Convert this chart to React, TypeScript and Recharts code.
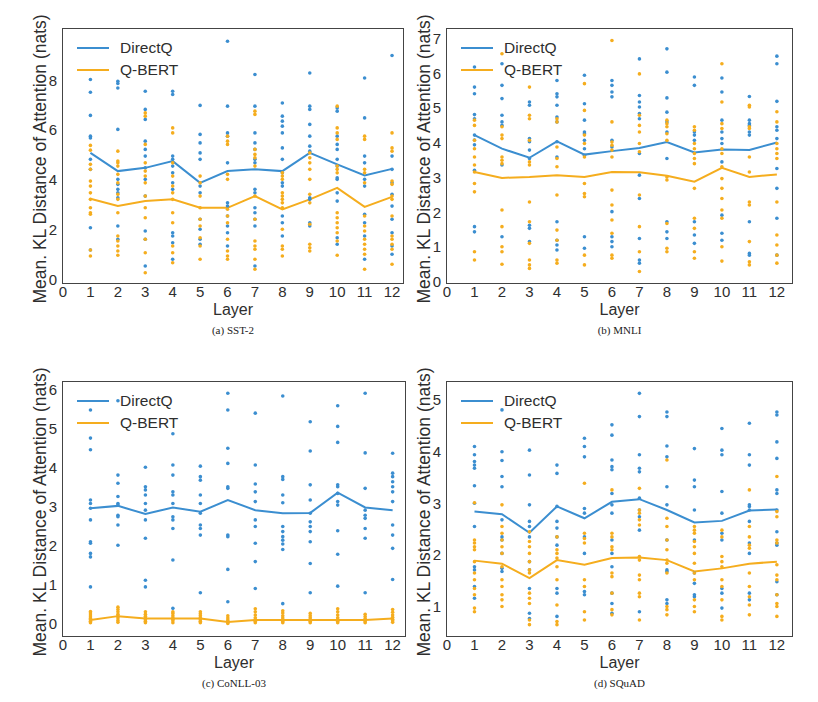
import React from "react";
import { ComposedChart, Scatter, Line, XAxis, YAxis } from "recharts";

// layer index on the x axis
const layers = [1, 2, 3, 4, 5, 6, 7, 8, 9, 10, 11, 12];
const layerTicks = [0, 1, 2, 3, 4, 5, 6, 7, 8, 9, 10, 11, 12];

// (a) SST-2
const sstDirectQ = [
  [8.03, 7.52, 6.59, 5.76, 5.69, 4.83, 4.43, 2.09, 1.2],
  [7.96, 7.87, 7.69, 6.03, 4.03, 3.83, 3.63, 3.49, 3.29, 2.16, 1.63],
  [7.56, 6.83, 6.43, 5.56, 5.23, 4.96, 4.49, 4.03, 3.36, 1.96, 1.63, 0.56],
  [7.56, 7.43, 4.96, 4.83, 4.56, 4.29, 3.89, 3.63, 1.89, 1.76, 1.49, 0.83],
  [6.99, 5.83, 5.49, 5.09, 4.83, 3.76, 3.49, 2.43, 2.03, 1.63, 1.43],
  [9.56, 6.96, 5.89, 5.76, 4.69, 3.09, 2.96, 2.56, 2.16, 1.89, 1.36],
  [8.23, 6.96, 5.89, 5.49, 5.23, 4.83, 4.69, 3.63, 3.49, 2.89, 2.69, 2.43, 2.16, 0.56],
  [7.09, 6.56, 6.36, 6.16, 5.89, 5.29, 4.83, 4.29, 3.89, 3.76, 2.56, 2.29, 1.76],
  [8.29, 6.96, 6.83, 6.23, 5.76, 5.36, 5.16, 3.29, 3.23, 2.29, 2.16],
  [6.89, 6.76, 5.76, 5.43, 5.23, 4.83, 4.56, 4.09, 4.03, 3.49, 3.16, 1.69, 1.43],
  [8.09, 6.49, 4.96, 4.69, 4.03, 3.76, 2.63, 2.29, 1.76, 0.83],
  [8.99, 4.96, 4.43, 3.89, 3.43, 2.96, 2.43, 1.89, 1.36, 1.03],
];
const sstQBert = [
  [5.39, 5.2, 4.63, 4.43, 3.96, 3.76, 3.49, 3.23, 2.89, 2.69, 2.63, 1.2, 0.96],
  [5.16, 4.76, 4.69, 4.56, 4.23, 3.89, 3.43, 3.23, 2.69, 1.76, 1.56, 1.36, 1.16, 0.99],
  [6.69, 6.56, 5.43, 4.69, 4.36, 4.16, 3.89, 3.36, 2.89, 2.49, 1.63, 1.09, 0.29],
  [6.09, 5.89, 4.69, 4.16, 3.76, 3.49, 3.23, 2.69, 2.29, 1.36, 1.09, 0.69],
  [4.16, 3.89, 3.36, 2.89, 2.43, 2.16, 1.69, 1.36, 0.83],
  [5.76, 5.56, 5.43, 4.23, 4.03, 2.83, 2.56, 2.29, 1.63, 1.16, 0.96, 0.83],
  [6.76, 6.63, 5.23, 5.03, 4.89, 4.56, 3.36, 2.43, 1.56, 1.36, 1.23, 0.83, 0.43],
  [4.29, 4.16, 4.03, 3.49, 3.36, 3.23, 3.09, 2.89, 2.03, 1.36, 1.23, 0.96],
  [5.09, 4.89, 4.69, 4.43, 4.03, 3.43, 3.09, 2.23, 1.43, 1.29, 1.16],
  [6.96, 6.09, 5.89, 5.63, 4.56, 4.43, 4.29, 2.69, 2.49, 2.29, 2.09, 1.89, 1.56, 0.99],
  [5.76, 5.63, 4.43, 4.29, 3.89, 2.56, 2.16, 1.96, 1.63, 1.43, 1.23, 1.03, 0.43],
  [5.89, 5.29, 5.16, 3.96, 3.83, 3.36, 3.23, 2.56, 1.76, 1.63, 1.43, 1.23, 0.63],
];
const sstDirectQMean = [5.09, 4.36, 4.49, 4.76, 3.89, 4.36, 4.43, 4.36, 5.09, 4.63, 4.19, 4.45];
const sstQBertMean = [3.25, 2.96, 3.16, 3.23, 2.89, 2.89, 3.36, 2.83, 3.23, 3.69, 2.93, 3.33];

// (b) MNLI
const mnliDirectQ = [
  [6.18, 5.6, 5.41, 4.81, 4.69, 4.22, 4.08, 3.94, 3.21, 1.59, 1.44],
  [6.27, 5.65, 5.27, 4.79, 4.6, 4.5, 3.36, 1.3],
  [5.17, 5.08, 4.12, 4.03, 3.79, 3.55, 1.63, 1.54, 1.16],
  [5.79, 5.41, 5.32, 5.08, 4.74, 4.6, 4.03, 3.59, 1.73, 1.2, 1.06, 0.92],
  [5.94, 5.12, 4.65, 4.31, 4.26, 4.07, 3.83, 3.64, 1.3, 0.97],
  [5.79, 5.65, 5.46, 5.32, 4.07, 3.88, 2.02, 1.3, 1.16, 1.01],
  [6.41, 5.36, 5.17, 5.03, 4.84, 4.69, 3.69, 3.07, 2.4, 1.25, 0.63, 0.54],
  [6.7, 6.03, 5.29, 4.88, 4.6, 4.31, 3.55, 1.73, 1.44, 1.25],
  [5.89, 5.65, 4.31, 4.22, 4.07, 1.73, 1.35, 1.11],
  [5.86, 5.46, 4.65, 4.31, 4.12, 3.98, 3.45, 1.92, 1.4, 1.2],
  [5.33, 4.65, 4.55, 4.5, 4.31, 4.22, 1.73, 0.82, 0.77],
  [6.49, 6.27, 5.19, 4.46, 4.36, 4.12, 3.26, 2.69, 1.83, 0.77],
];
const mnliQBert = [
  [4.65, 4.5, 4.07, 3.83, 3.59, 3.36, 3.16, 2.83, 2.59, 0.87, 0.63],
  [6.56, 4.46, 4.22, 4.12, 3.59, 3.5, 3.4, 2.07, 1.59, 1.01, 0.87, 0.51],
  [5.6, 4.79, 4.69, 4.07, 3.45, 3.36, 2.3, 1.73, 1.11, 0.63, 0.49, 0.39],
  [4.69, 4.6, 3.88, 3.55, 3.31, 2.5, 1.49, 1.2, 0.63, 0.54],
  [5.7, 4.93, 4.22, 3.98, 3.59, 2.83, 2.54, 2.45, 0.77, 0.49],
  [6.94, 4.6, 4.02, 3.93, 3.79, 3.59, 2.64, 2.21, 1.78, 1.4, 0.77, 0.68],
  [5.98, 4.79, 4.5, 4.31, 3.98, 3.74, 2.5, 1.59, 0.87, 0.3],
  [4.65, 4.55, 4.46, 4.26, 4.07, 3.02, 2.93, 1.68, 0.97, 0.87],
  [4.46, 4.36, 3.98, 3.83, 3.69, 3.55, 3.4, 2.69, 1.83, 1.54, 0.87, 0.68],
  [6.27, 5.17, 4.55, 4.41, 3.83, 3.69, 3.31, 2.97, 2.69, 2.4, 2.07, 1.83, 1.01, 0.6],
  [5.08, 5.03, 4.46, 4.41, 3.59, 3.16, 2.3, 2.21, 1.16, 0.58, 0.49],
  [4.89, 4.6, 3.98, 3.83, 3.69, 3.55, 2.3, 1.35, 1.06, 0.77, 0.54],
];
const mnliDirectQMean = [4.22, 3.83, 3.57, 4.04, 3.66, 3.76, 3.85, 4.02, 3.72, 3.81, 3.79, 4.01];
const mnliQBertMean = [3.16, 2.99, 3.02, 3.07, 3.02, 3.16, 3.15, 3.05, 2.88, 3.28, 3.02, 3.09];

// (c) CoNLL-03
const conllDirectQ = [
  [5.48, 4.76, 4.46, 3.17, 3.08, 2.96, 2.66, 2.1, 2.06, 1.8, 1.71, 0.94],
  [5.72, 3.81, 3.6, 3.26, 3.08, 3.04, 2.78, 2.74, 2.53, 2.01],
  [4.01, 3.51, 3.43, 3.3, 3.08, 2.91, 2.66, 2.19, 1.11, 0.94],
  [4.87, 4.07, 3.81, 3.38, 3.3, 3.08, 2.74, 2.66, 2.44, 1.63, 0.39],
  [4.04, 3.77, 3.68, 3.3, 3.08, 2.83, 2.53, 2.44, 2.27, 0.79],
  [5.91, 5.48, 4.5, 4.11, 3.51, 3.47, 2.27, 2.23, 1.39, 0.56],
  [5.4, 4.07, 3.58, 3.38, 3.13, 2.66, 2.49, 2.06, 1.59, 0.9],
  [5.84, 3.77, 3.7, 3.3, 3.1, 2.49, 2.36, 2.23, 2.14, 2.04, 1.9, 0.51],
  [5.18, 4.43, 3.56, 3.17, 2.83, 2.61, 2.49, 2.36, 2.1, 1.54, 0.79],
  [5.59, 5.06, 4.65, 3.56, 3.51, 3.34, 3.13, 3.04, 2.38, 1.78, 0.96],
  [5.91, 4.38, 3.47, 2.91, 2.78, 2.7, 2.44, 2.19, 0.79],
  [4.37, 3.86, 3.77, 3.64, 3.51, 3.38, 3.13, 2.53, 2.27, 1.93, 1.13],
];
const conllQBert = [
  [0.02, 0.06, 0.1, 0.13, 0.17, 0.22, 0.27, 0.31],
  [0.03, 0.08, 0.14, 0.19, 0.24, 0.3, 0.36, 0.42],
  [0.02, 0.06, 0.1, 0.14, 0.19, 0.24, 0.3],
  [0.02, 0.07, 0.11, 0.15, 0.2, 0.26, 0.3],
  [0.02, 0.06, 0.1, 0.15, 0.2, 0.25, 0.3],
  [0.0, 0.03, 0.06, 0.09, 0.14, 0.2],
  [0.02, 0.06, 0.1, 0.15, 0.22, 0.3, 0.38],
  [0.02, 0.05, 0.09, 0.14, 0.2, 0.27, 0.33],
  [0.02, 0.06, 0.1, 0.15, 0.2, 0.26],
  [0.02, 0.06, 0.1, 0.15, 0.22, 0.3, 0.38],
  [0.02, 0.05, 0.09, 0.13, 0.18, 0.24],
  [0.03, 0.07, 0.11, 0.16, 0.22, 0.29, 0.36],
];
const conllDirectQMean = [2.96, 3.02, 2.81, 2.98, 2.87, 3.17, 2.91, 2.83, 2.84, 3.36, 2.98, 2.91];
const conllQBertMean = [0.09, 0.19, 0.13, 0.13, 0.13, 0.04, 0.09, 0.09, 0.09, 0.09, 0.09, 0.13];

// (d) SQuAD
const squadDirectQ = [
  [4.1, 3.94, 3.81, 3.74, 3.68, 3.34, 3.0, 2.55, 1.77, 1.71, 1.39, 1.16],
  [4.81, 4.0, 3.83, 3.52, 3.32, 2.68, 2.35, 2.29, 2.03, 1.74, 1.68],
  [4.03, 3.55, 2.97, 2.65, 2.55, 2.35, 1.87, 1.71, 1.35, 0.87, 0.77],
  [3.74, 3.58, 2.94, 2.65, 2.52, 2.35, 2.19, 1.35, 1.26, 0.81],
  [4.26, 4.1, 3.9, 2.9, 2.81, 2.35, 2.03, 1.29, 1.23],
  [4.52, 4.32, 3.84, 3.71, 3.65, 3.19, 2.97, 2.81, 2.29, 2.03, 1.77, 1.26, 1.06, 0.87],
  [5.13, 4.68, 3.94, 3.68, 3.61, 3.1, 2.87, 2.74, 2.48, 0.9],
  [4.77, 4.68, 4.11, 3.9, 3.32, 2.97, 2.29, 1.71, 1.68, 1.13, 1.06],
  [4.06, 3.45, 3.32, 2.87, 2.29, 1.65, 1.45, 1.23, 1.19],
  [4.45, 4.03, 3.94, 3.23, 2.81, 2.42, 2.29, 1.35, 1.26, 0.97],
  [4.55, 3.94, 3.74, 2.97, 2.94, 2.87, 2.65, 2.23, 2.03, 1.26, 1.13],
  [4.77, 4.71, 4.19, 3.87, 3.26, 3.19, 2.87, 2.45, 2.23, 2.19, 1.48, 1.23],
];
const squadQBert = [
  [3.01, 2.29, 2.23, 2.16, 2.1, 1.87, 1.65, 1.52, 1.35, 1.23, 0.97, 0.9],
  [2.97, 2.55, 2.42, 2.29, 2.16, 2.03, 1.77, 1.52, 1.39, 1.23, 1.13, 1.0],
  [2.45, 2.26, 2.16, 2.03, 1.87, 1.71, 1.65, 1.26, 1.16, 1.06, 0.74, 0.65],
  [2.35, 2.1, 2.03, 1.94, 1.77, 1.52, 1.03, 0.71, 0.65],
  [3.39, 2.42, 2.32, 2.23, 1.52, 1.39, 0.9, 0.74],
  [3.26, 2.42, 2.35, 2.16, 2.1, 1.65, 1.58, 1.26, 0.94, 0.84],
  [3.29, 2.87, 2.81, 2.68, 2.58, 1.97, 1.9, 1.61, 1.52, 1.26, 1.19, 0.74],
  [3.84, 2.71, 2.55, 2.29, 2.1, 1.9, 1.84, 1.65, 1.0, 0.94, 0.84],
  [2.55, 2.48, 2.42, 2.26, 2.16, 2.03, 1.84, 1.65, 1.52, 1.13, 1.0, 0.9],
  [2.48, 2.35, 1.97, 1.87, 1.77, 1.52, 1.39, 1.13, 0.81, 0.74],
  [3.26, 2.55, 2.35, 2.19, 2.13, 1.65, 1.39, 1.19, 1.03, 0.84],
  [3.52, 2.84, 2.74, 2.29, 2.23, 1.81, 1.61, 1.52, 1.23, 1.06, 1.0, 0.81],
];
const squadDirectQMean = [2.84, 2.79, 2.43, 2.94, 2.71, 3.03, 3.08, 2.87, 2.63, 2.66, 2.86, 2.88];
const squadQBertMean = [1.89, 1.83, 1.55, 1.9, 1.81, 1.94, 1.95, 1.9, 1.68, 1.74, 1.83, 1.87];

const BLUE = "#3b8ed0";
const ORANGE = "#f5ad1e";
const TEXT = "#2e2e2e";
const FONT = '"Liberation Sans", Arial, sans-serif';

const toPoints = (groups: number[][]) =>
  groups.flatMap((vals, i) => vals.map((v) => ({ x: layers[i], y: v })));
const toLine = (means: number[]) => means.map((v, i) => ({ x: layers[i], y: v }));

const dot = (color: string) => (p: any) => (
  <circle cx={p.cx} cy={p.cy} r={1.8} fill={color} />
);

type PanelProps = {
  left: number;
  top: number;
  w: number;
  h: number;
  xMax: number;
  yDomain: [number, number];
  yTicks: number[];
  caption: string;
  directQ: number[][];
  qBert: number[][];
  directQMean: number[];
  qBertMean: number[];
};

function Panel(p: PanelProps) {
  const ML = 50;
  const MT = 10;
  const MR = 10;
  const XH = 38;
  return (
    <>
      <div style={{ position: "absolute", left: p.left - ML, top: p.top - MT }}>
        <ComposedChart
          width={p.w + ML + MR}
          height={p.h + MT + XH}
          margin={{ top: MT, right: MR, left: 0, bottom: 0 }}
        >
          <XAxis
            type="number"
            dataKey="x"
            domain={[0, p.xMax]}
            ticks={layerTicks}
            allowDataOverflow
            axisLine={false}
            tickLine={false}
            tickSize={0}
            tickMargin={3}
            height={XH}
            tick={{ fill: TEXT, fontSize: 15 }}
            label={{ value: "Layer", position: "insideBottom", offset: 6, fill: TEXT, fontSize: 16 }}
          />
          <YAxis
            type="number"
            dataKey="y"
            domain={p.yDomain}
            ticks={p.yTicks}
            allowDataOverflow
            axisLine={false}
            tickLine={false}
            tickSize={0}
            tickMargin={6}
            width={ML}
            tick={{ fill: TEXT, fontSize: 15 }}
          />
          <Scatter data={toPoints(p.directQ)} fill={BLUE} shape={dot(BLUE)} isAnimationActive={false} />
          <Scatter data={toPoints(p.qBert)} fill={ORANGE} shape={dot(ORANGE)} isAnimationActive={false} />
          <Line
            data={toLine(p.directQMean)}
            dataKey="y"
            stroke={BLUE}
            strokeWidth={2}
            dot={false}
            activeDot={false}
            isAnimationActive={false}
          />
          <Line
            data={toLine(p.qBertMean)}
            dataKey="y"
            stroke={ORANGE}
            strokeWidth={2}
            dot={false}
            activeDot={false}
            isAnimationActive={false}
          />
        </ComposedChart>
      </div>
      {/* frame */}
      <div
        style={{
          position: "absolute",
          left: p.left - 1,
          top: p.top - 1,
          width: p.w + 2,
          height: p.h + 2,
          border: "1.5px solid #444",
          boxSizing: "border-box",
          pointerEvents: "none",
        }}
      />
      {/* legend */}
      {[
        { name: "DirectQ", color: BLUE, dy: 19 },
        { name: "Q-BERT", color: ORANGE, dy: 41 },
      ].map((item) => (
        <React.Fragment key={item.name}>
          <div
            style={{
              position: "absolute",
              left: p.left + 14,
              top: p.top + item.dy - 1,
              width: 32,
              height: 2,
              background: item.color,
            }}
          />
          <div
            style={{
              position: "absolute",
              left: p.left + 57,
              top: p.top + item.dy - 10,
              height: 20,
              lineHeight: "20px",
              fontSize: 15.5,
              color: TEXT,
            }}
          >
            {item.name}
          </div>
        </React.Fragment>
      ))}
      {/* y axis title */}
      <div
        style={{
          position: "absolute",
          left: p.left - 23,
          top: p.top + p.h / 2 + 3,
          transform: "translate(-50%, -50%) rotate(-90deg)",
          whiteSpace: "nowrap",
          fontSize: 17.5,
          color: TEXT,
        }}
      >
        Mean. KL Distance of Attention (nats)
      </div>
      <div
        style={{
          position: "absolute",
          left: p.left + p.w / 2,
          top: p.top + p.h + 47,
          transform: "translate(-50%, -50%)",
          whiteSpace: "nowrap",
          fontFamily: '"Liberation Serif", "Times New Roman", serif',
          fontSize: 11,
          color: "#222",
        }}
      >
        {p.caption}
      </div>
    </>
  );
}

export default function App() {
  return (
    <div
      style={{
        position: "absolute",
        left: 0,
        top: 0,
        width: 818,
        height: 702,
        background: "#fff",
        fontFamily: FONT,
        overflow: "hidden",
      }}
    >
      <Panel
        left={63}
        top={29}
        w={340}
        h={254}
        xMax={12.4}
        yDomain={[-0.12, 10.05]}
        yTicks={[0, 2, 4, 6, 8]}
        caption="(a) SST-2"
        directQ={sstDirectQ}
        qBert={sstQBert}
        directQMean={sstDirectQMean}
        qBertMean={sstQBertMean}
      />
      <Panel
        left={447}
        top={29}
        w={345}
        h={254}
        xMax={12.55}
        yDomain={[-0.03, 7.27]}
        yTicks={[0, 1, 2, 3, 4, 5, 6, 7]}
        caption="(b) MNLI"
        directQ={mnliDirectQ}
        qBert={mnliQBert}
        directQMean={mnliDirectQMean}
        qBertMean={mnliQBertMean}
      />
      <Panel
        left={63}
        top={382}
        w={342}
        h={254}
        xMax={12.45}
        yDomain={[-0.32, 6.2]}
        yTicks={[0, 1, 2, 3, 4, 5, 6]}
        caption="(c) CoNLL-03"
        directQ={conllDirectQ}
        qBert={conllQBert}
        directQMean={conllDirectQMean}
        qBertMean={conllQBertMean}
      />
      <Panel
        left={447}
        top={382}
        w={345}
        h={254}
        xMax={12.55}
        yDomain={[0.43, 5.35]}
        yTicks={[1, 2, 3, 4, 5]}
        caption="(d) SQuAD"
        directQ={squadDirectQ}
        qBert={squadQBert}
        directQMean={squadDirectQMean}
        qBertMean={squadQBertMean}
      />
    </div>
  );
}
